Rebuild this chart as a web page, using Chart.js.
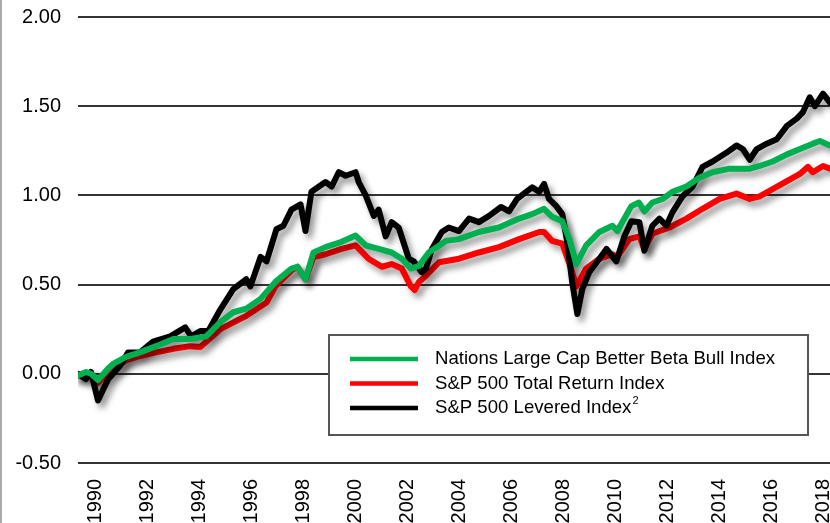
<!DOCTYPE html>
<html>
<head>
<meta charset="utf-8">
<script src="https://cdn.jsdelivr.net/npm/chart.js@4.4.1/dist/chart.umd.min.js"></script>
<style>
  html, body { margin: 0; padding: 0; background: #fff; }
  #wrap { width: 830px; height: 523px; }
</style>
</head>
<body>
<div id="wrap"><canvas id="lineChart" width="830" height="523"></canvas></div>
<script>
const seriesNames = ['Nations Large Cap Better Beta Bull Index', 'S&P 500 Total Return Index', 'S&P 500 Levered Index'];

// values (x = position on the year axis)
const greenYears = [1989.50, 1989.81, 1990.00, 1990.27, 1990.66, 1990.85, 1991.35, 1991.89, 1992.51, 1993.17, 1993.82, 1994.44, 1994.98, 1995.48, 1995.98, 1996.53, 1997.10, 1997.72, 1997.95, 1998.26, 1998.57, 1999.03, 1999.65, 2000.19, 2000.58, 2001.08, 2001.58, 2001.97, 2002.32, 2002.63, 2003.01, 2003.67, 2004.17, 2004.94, 2005.71, 2006.49, 2006.99, 2007.45, 2007.76, 2008.15, 2008.42, 2008.69, 2009.07, 2009.58, 2010.08, 2010.27, 2010.81, 2011.10, 2011.31, 2011.62, 2012.01, 2012.39, 2012.93, 2013.44, 2013.94, 2014.59, 2015.37, 2015.75, 2016.25, 2016.80, 2017.30, 2017.80, 2018.07, 2018.46];
const greenValues = [-0.01, 0.01, 0.00, -0.035, 0.03, 0.055, 0.095, 0.12, 0.155, 0.195, 0.195, 0.21, 0.29, 0.345, 0.365, 0.42, 0.515, 0.59, 0.60, 0.53, 0.68, 0.71, 0.74, 0.775, 0.72, 0.70, 0.68, 0.645, 0.59, 0.605, 0.68, 0.745, 0.755, 0.795, 0.82, 0.87, 0.895, 0.925, 0.88, 0.855, 0.755, 0.615, 0.72, 0.795, 0.83, 0.80, 0.94, 0.96, 0.91, 0.96, 0.98, 1.02, 1.05, 1.10, 1.13, 1.15, 1.15, 1.165, 1.19, 1.23, 1.26, 1.29, 1.305, 1.28];

const redYears = [1989.50, 1989.81, 1990.00, 1990.27, 1990.66, 1991.35, 1991.89, 1992.51, 1993.17, 1993.82, 1994.21, 1994.98, 1995.98, 1996.76, 1997.10, 1997.72, 1997.95, 1998.26, 1998.57, 1999.03, 1999.65, 2000.19, 2000.69, 2001.20, 2001.58, 2001.97, 2002.32, 2002.47, 2002.63, 2002.90, 2003.40, 2004.17, 2004.94, 2005.71, 2006.49, 2007.26, 2007.45, 2007.76, 2008.15, 2008.49, 2008.69, 2009.07, 2009.58, 2010.08, 2010.27, 2010.73, 2011.12, 2011.31, 2011.62, 2012.28, 2012.93, 2013.55, 2014.21, 2014.86, 2015.37, 2015.75, 2016.25, 2016.80, 2017.30, 2017.61, 2017.80, 2018.19, 2018.46];
const redValues = [-0.01, 0.005, -0.005, -0.05, 0.01, 0.075, 0.10, 0.12, 0.14, 0.155, 0.15, 0.25, 0.325, 0.40, 0.49, 0.58, 0.60, 0.53, 0.655, 0.67, 0.70, 0.72, 0.645, 0.60, 0.615, 0.59, 0.49, 0.47, 0.515, 0.55, 0.625, 0.645, 0.68, 0.71, 0.755, 0.795, 0.795, 0.745, 0.73, 0.59, 0.49, 0.59, 0.645, 0.67, 0.655, 0.755, 0.77, 0.70, 0.785, 0.82, 0.87, 0.925, 0.98, 1.01, 0.98, 0.995, 1.035, 1.08, 1.12, 1.16, 1.13, 1.165, 1.15];

const blackYears = [1989.50, 1989.81, 1990.00, 1990.27, 1990.66, 1991.12, 1991.43, 1991.89, 1992.39, 1993.05, 1993.63, 1993.86, 1994.21, 1994.52, 1994.98, 1995.48, 1995.98, 1996.14, 1996.53, 1996.76, 1997.14, 1997.41, 1997.72, 1998.07, 1998.26, 1998.49, 1999.03, 1999.27, 1999.54, 1999.81, 2000.19, 2000.31, 2000.58, 2000.89, 2001.08, 2001.35, 2001.58, 2001.85, 2002.24, 2002.43, 2002.74, 2002.90, 2003.13, 2003.51, 2003.78, 2004.17, 2004.56, 2004.94, 2005.33, 2005.79, 2006.10, 2006.41, 2006.76, 2006.99, 2007.26, 2007.45, 2007.64, 2007.92, 2008.15, 2008.34, 2008.53, 2008.73, 2008.92, 2009.19, 2009.58, 2009.85, 2010.23, 2010.54, 2010.81, 2011.12, 2011.31, 2011.62, 2011.89, 2012.16, 2012.39, 2012.78, 2013.17, 2013.55, 2013.94, 2014.48, 2014.86, 2015.10, 2015.37, 2015.64, 2016.02, 2016.41, 2016.80, 2017.18, 2017.41, 2017.68, 2017.88, 2018.19, 2018.46];
const blackValues = [0.00, -0.03, 0.01, -0.15, -0.03, 0.045, 0.12, 0.12, 0.18, 0.21, 0.26, 0.21, 0.24, 0.24, 0.36, 0.475, 0.53, 0.49, 0.655, 0.63, 0.81, 0.83, 0.92, 0.95, 0.80, 1.02, 1.075, 1.05, 1.13, 1.11, 1.13, 1.075, 1.00, 0.885, 0.92, 0.77, 0.85, 0.82, 0.645, 0.63, 0.57, 0.59, 0.70, 0.795, 0.82, 0.80, 0.87, 0.85, 0.885, 0.935, 0.91, 0.98, 1.02, 1.045, 1.02, 1.065, 0.98, 0.94, 0.895, 0.74, 0.515, 0.335, 0.475, 0.57, 0.645, 0.70, 0.63, 0.77, 0.855, 0.85, 0.69, 0.83, 0.87, 0.83, 0.905, 0.995, 1.05, 1.16, 1.19, 1.24, 1.28, 1.26, 1.20, 1.26, 1.29, 1.315, 1.39, 1.43, 1.465, 1.55, 1.50, 1.57, 1.52];

const yTicks = [-0.5, 0, 0.5, 1, 1.5, 2];
const xTickYears = [1990, 1992, 1994, 1996, 1998, 2000, 2002, 2004, 2006, 2008, 2010, 2012, 2014, 2016, 2018];

const FONT = '"Liberation Sans", Arial, sans-serif';

function toPoints(xs, ys) {
    return xs.map((x, i) => ({ x: x, y: ys[i] }));
}

// soft grey shadow under the lines
const shadowPlugin = {
    id: 'shadow',
    beforeDatasetsDraw(chart) {
        const c = chart.ctx;
        c.save();
        c.shadowColor = 'rgba(0,0,0,0.42)';
        c.shadowBlur = 6;
        c.shadowOffsetX = 4;
        c.shadowOffsetY = 5;
    },
    afterDatasetsDraw(chart) {
        chart.ctx.restore();
    }
};

// thin frame line on the left edge
const frameLine = {
    id: 'frameLine',
    beforeDraw(chart) {
        const c = chart.ctx;
        c.save();
        c.strokeStyle = '#aaaaaa';
        c.lineWidth = 2;
        c.beginPath();
        c.moveTo(1, 0);
        c.lineTo(1, chart.height);
        c.stroke();
        c.restore();
    }
};

// boxed legend, drawn by hand because of the superscript
const boxLegend = {
    id: 'boxLegend',
    afterDraw(chart) {
        const c = chart.ctx;
        const colors = ['#00b050', '#ff0000', '#000000'];
        c.save();
        c.fillStyle = '#fff';
        c.fillRect(329, 335, 479, 100);
        c.strokeStyle = '#555';
        c.lineWidth = 2;
        c.strokeRect(329, 335, 479, 100);
        const rows = [359, 383.5, 408];
        c.textBaseline = 'middle';
        c.fillStyle = '#000';
        rows.forEach((y, i) => {
            c.strokeStyle = colors[i];
            c.lineWidth = 4.5;
            c.beginPath();
            c.moveTo(350, y);
            c.lineTo(418, y);
            c.stroke();
            c.font = '18.6px ' + FONT;
            c.fillText(seriesNames[i], 435, y);
            if (i === 2) {
                const w = c.measureText(seriesNames[i]).width;
                c.font = '11px ' + FONT;
                c.fillText('2', 435 + w + 1, y - 7);
            }
        });
        c.restore();
    }
};

window.onload = function() {
    const ctx = document.getElementById('lineChart').getContext('2d');
    new Chart(ctx, {
        type: 'line',
        data: {
            datasets: [
                { label: seriesNames[1], data: toPoints(redYears, redValues), borderColor: '#ff0000', order: 3 },
                { label: seriesNames[2], data: toPoints(blackYears, blackValues), borderColor: '#000000', order: 2 },
                { label: seriesNames[0], data: toPoints(greenYears, greenValues), borderColor: '#00b050', order: 1 }
            ]
        },
        options: {
            responsive: false,
            animation: false,
            layout: { padding: { top: 17, right: 0, left: 0, bottom: 0 } },
            elements: {
                point: { radius: 0 },
                line: { borderWidth: 6, tension: 0, borderJoinStyle: 'round', borderCapStyle: 'round' }
            },
            plugins: {
                legend: { display: false },
                tooltip: { enabled: false }
            },
            scales: {
                x: {
                    type: 'linear',
                    min: 1989.5,
                    max: 2018.46,
                    grid: { display: false },
                    border: { display: false },
                    afterBuildTicks: s => { s.ticks = xTickYears.map(v => ({ value: v })); },
                    afterFit: s => { s.height = 60; s.paddingLeft = 0; s.paddingRight = 0; s.paddingTop = 0; s.paddingBottom = 0; },
                    ticks: {
                        autoSkip: false,
                        minRotation: 90,
                        maxRotation: 90,
                        padding: 8,
                        labelOffset: 5,
                        color: '#000',
                        font: { family: FONT, size: 20 },
                        callback: v => String(v)
                    }
                },
                y: {
                    min: -0.5,
                    max: 2,
                    afterBuildTicks: s => { s.ticks = yTicks.map(v => ({ value: v })); },
                    afterFit: s => { s.width = 78; s.paddingTop = 0; s.paddingBottom = 0; s.paddingLeft = 0; s.paddingRight = 0; },
                    grid: { color: '#333', lineWidth: 2, drawTicks: false },
                    border: { display: false },
                    ticks: {
                        padding: 17,
                        color: '#000',
                        font: { family: FONT, size: 20 },
                        callback: v => v.toFixed(2)
                    }
                }
            }
        },
        plugins: [frameLine, shadowPlugin, boxLegend]
    });
};
</script>
</body>
</html>
